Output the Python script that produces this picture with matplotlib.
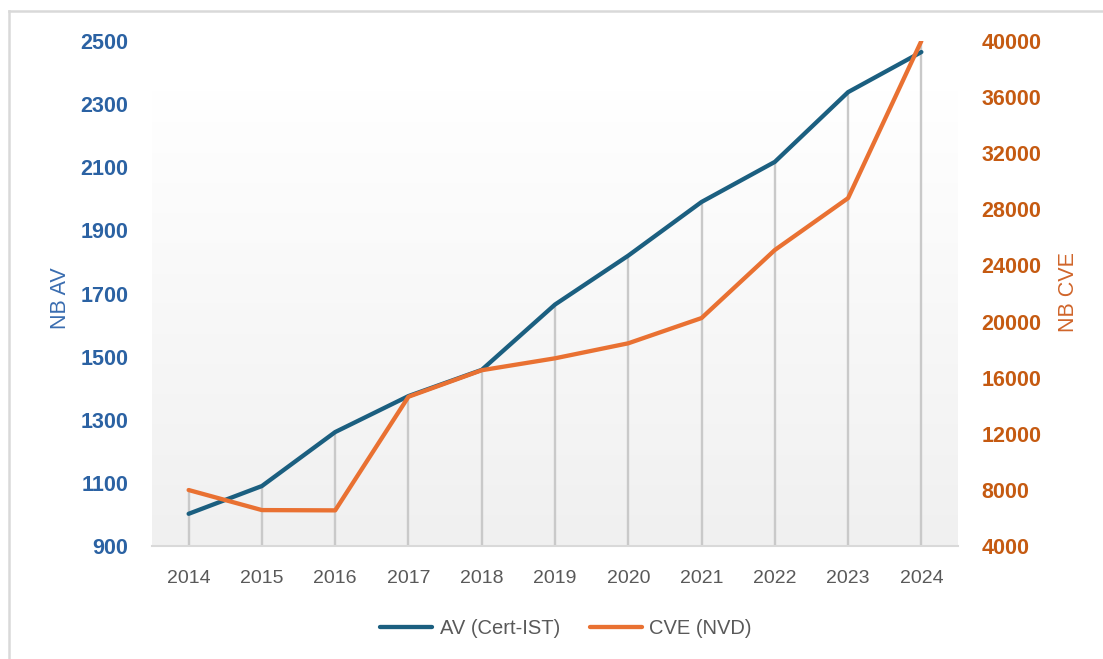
import matplotlib
matplotlib.use("Agg")
import matplotlib.pyplot as plt
import numpy as np
from matplotlib.lines import Line2D
from matplotlib.colors import LinearSegmentedColormap

plt.rcParams['font.family'] = ['Liberation Sans', 'DejaVu Sans']

years = ["2014", "2015", "2016", "2017", "2018", "2019", "2020", "2021", "2022", "2023", "2024"]
av_values = [1002, 1090, 1261, 1375, 1458, 1665, 1820, 1990, 2117, 2338, 2465]
cve_values = [7990, 6560, 6540, 14640, 16530, 17380, 18450, 20250, 25100, 28800, 40000]
left_ticks = [900, 1100, 1300, 1500, 1700, 1900, 2100, 2300, 2500]
right_ticks = [4000, 8000, 12000, 16000, 20000, 24000, 28000, 32000, 36000, 40000]

BLUE = "#1b5f80"
ORANGE = "#e97132"
LBLUE = "#2b62a3"
LORANGE = "#c55a11"
GRAY_TXT = "#595959"

W, H = 1103, 659
fig = plt.figure(figsize=(W / 100, H / 100), dpi=100)
fig.patch.set_facecolor("white")

left, right, top, bottom = 152, 958, 41, 546
ax = fig.add_axes([left / W, 1 - bottom / H, (right - left) / W, (bottom - top) / H])
ax2 = ax.twinx()

x = np.arange(len(years))
ax.set_xlim(-0.5, len(years) - 0.5)
ax.set_ylim(900, 2500)
ax2.set_ylim(4000, 40000)

# gradient background
grad = np.linspace(0, 1, 256).reshape(-1, 1)
cmap = LinearSegmentedColormap.from_list("bg", [(0, "#ffffff"), (0.1, "#ffffff"), (1, "#f0f0f0")])
ax.imshow(grad, aspect="auto", cmap=cmap, extent=[0, 1, 0, 1],
          transform=ax.transAxes, zorder=0, origin="upper")
ax.set_facecolor("none")

# drop lines from highest point of each category
fig.canvas.draw()
for i in range(len(years)):
    f1 = ax.transAxes.inverted().transform(ax.transData.transform((x[i], av_values[i])))[1]
    f2 = ax2.transAxes.inverted().transform(ax2.transData.transform((x[i], cve_values[i])))[1]
    ax.axvline(x[i], ymin=0, ymax=max(f1, f2), color="#c9c9c9", lw=1.7, zorder=1)

ax.plot(x, av_values, color=BLUE, lw=3.1, solid_capstyle="round", solid_joinstyle="round", zorder=3)
ax2.plot(x, cve_values, color=ORANGE, lw=3.1, solid_capstyle="round", solid_joinstyle="round", zorder=3)

for a in (ax, ax2):
    for s in a.spines.values():
        s.set_visible(False)
ax.spines["bottom"].set_visible(True)
ax.spines["bottom"].set_color("#d9d9d9")
ax.spines["bottom"].set_linewidth(1.5)

ax.set_xticks(x)
ax.set_xticklabels(years, fontsize=14, color=GRAY_TXT)
ax.tick_params(axis="x", length=0, pad=17)

ax.set_yticks(left_ticks)
ax.set_yticklabels([str(v) for v in left_ticks], fontsize=15.5, fontweight="bold", color=LBLUE)
ax.tick_params(axis="y", length=0, pad=17)

ax2.set_yticks(right_ticks)
ax2.set_yticklabels([str(v) for v in right_ticks], fontsize=15.5, fontweight="bold", color=LORANGE)
ax2.tick_params(axis="y", length=0, pad=17)

fig.text(60 / W, 1 - 298 / H, "NB AV", rotation=90, fontsize=15.5, color="#3a6db0",
         ha="center", va="center")
fig.text(1068 / W, 1 - 292 / H, "NB CVE", rotation=90, fontsize=15.5, color="#d0652a",
         ha="center", va="center")

handles = [Line2D([], [], color=BLUE, lw=3.1, solid_capstyle="round"),
           Line2D([], [], color=ORANGE, lw=3.1, solid_capstyle="round")]
fig.legend(handles, ["AV (Cert-IST)", "CVE (NVD)"], loc="center",
           bbox_to_anchor=(566 / W, 1 - 629 / H), ncol=2, frameon=False,
           fontsize=14.5, labelcolor=GRAY_TXT, handlelength=2.6, handletextpad=0.35,
           columnspacing=1.5)

# outer frame (cropped screenshot border)
fig.add_artist(Line2D([8.5 / W, 8.5 / W], [0, 1 - 10.5 / H], color="#d9d9d9", lw=1.8,
                      transform=fig.transFigure))
fig.add_artist(Line2D([8.5 / W, 1], [1 - 10.5 / H, 1 - 10.5 / H], color="#d9d9d9", lw=1.8,
                      transform=fig.transFigure))

fig.savefig("out.png", dpi=100)
